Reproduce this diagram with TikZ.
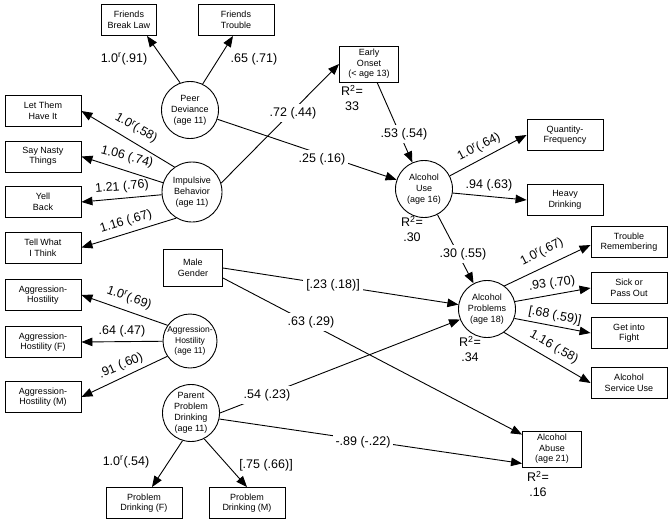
\documentclass[tikz,border=0pt]{standalone}
\usepackage{fontspec}
\setmainfont{Liberation Sans}
\usetikzlibrary{arrows.meta,positioning}

\tikzset{
  box/.style={draw, line width=0.9pt, minimum width=76pt, minimum height=31pt,
    inner sep=1pt, align=center, font=\fontsize{9}{10.5}\selectfont},
  latent/.style={draw, circle, line width=0.9pt, minimum size=57pt, inner sep=0pt,
    align=center, font=\fontsize{9}{11}\selectfont},
  coef/.style={font=\fontsize{12.5}{15}\selectfont, inner sep=1pt},
  cut/.style={coef, fill=white, inner sep=3pt},
  rsq/.style={coef, align=center},
  arr/.style={-{Triangle[length=11pt,width=8.5pt]}, line width=0.9pt}
}
\newcommand{\ld}[2]{#1\textsuperscript{r}(#2)}

\begin{document}
\begin{tikzpicture}[x=1pt, y=-1pt, on grid]
  \useasboundingbox (0,0) rectangle (672,525);
  % peer deviance and impulsive behavior
  \node[box, minimum width=55pt] (fbl) at (129,20) {Friends\\Break Law};
  \node[box] (ft) at (236,20) {Friends\\Trouble};
  \node[latent] (peer) at (190,110) {Peer\\Deviance\\(age 11)};
  \node[latent, minimum size=60pt] (imp) at (192,192) {Impulsive\\Behavior\\(age 11)};
  \node[box] (lth) at (43,111) {Let Them\\Have It};
  \node[box, below=45.5pt of lth] (snt) {Say Nasty\\Things};
  \node[box, below=45.5pt of snt] (yb) {Yell\\Back};
  \node[box, below=45.5pt of yb] (twt) {Tell What\\I Think};
  % outcomes
  \node[box, minimum width=59pt, minimum height=36pt] (early) at (369,64) {Early\\Onset\\(< age 13)};
  \node[latent] (au) at (424,189) {Alcohol\\Use\\(age 16)};
  \node[box] (qf) at (565,135) {Quantity-\\Frequency};
  \node[box, below=65pt of qf] (hd) {Heavy\\Drinking};
  \node[latent] (ap) at (487,309) {Alcohol\\Problems\\(age 18)};
  \node[box] (trm) at (629,242) {Trouble\\Remembering};
  \node[box, below=46pt of trm] (spo) {Sick or\\Pass Out};
  \node[box, below=45pt of spo] (gif) {Get into\\Fight};
  \node[box, below=50pt of gif] (asu) {Alcohol\\Service Use};
  \node[box, minimum width=59pt, minimum height=36pt] (abuse) at (552,449) {Alcohol\\Abuse\\(age 21)};
  % gender, aggression, parents
  \node[box, minimum width=59pt, minimum height=37pt] (male) at (193,268) {Male\\Gender};
  \node[box] (ah) at (43,295) {Aggression-\\Hostility};
  \node[box, below=47pt of ah] (ahf) {Aggression-\\Hostility (F)};
  \node[box, below=55pt of ahf] (ahm) {Aggression-\\Hostility (M)};
  \node[latent, minimum size=54pt, font=\fontsize{8.5}{10.5}\selectfont] (agg) at (190,341) {Aggression-\\Hostility\\(age 11)};
  \node[latent] (ppd) at (191,413) {Parent\\Problem\\Drinking\\(age 11)};
  \node[box] (pdf) at (144,503) {Problem\\Drinking (F)};
  \node[box] (pdm) at (247,503) {Problem\\Drinking (M)};

  \draw[arr] (peer.110) -- ([xshift=18pt]fbl.south);
  \draw[arr] (peer.64) -- ([xshift=-3pt]ft.south);
  \draw[arr] (peer) -- (au);
  \draw[arr] (imp.125) -- (lth.east);
  \draw[arr] (imp) -- (snt.east);
  \draw[arr] (imp) -- (yb.east);
  \draw[arr] (imp.239) -- (twt.east);
  \draw[arr] (imp.17) -- (early.west);
  \draw[arr] (early) -- (au);
  \draw[arr] (au.27) -- (qf.west);
  \draw[arr] (au.-8) -- (hd.west);
  \draw[arr] (au) -- (ap);
  \draw[arr] (ap.53) -- ([yshift=-3pt]trm.west);
  \draw[arr] (ap.15) -- (spo.west);
  \draw[arr] (ap.-19) -- (gif.west);
  \draw[arr] (ap.-54) -- (asu.west);
  \draw[arr] (male.east) -- (ap);
  \draw[arr] ([yshift=-10pt]male.east) -- ([yshift=-4pt]abuse.north west);
  \draw[arr] (agg.145) -- (ah.east);
  \draw[arr] (agg) -- (ahf.east);
  \draw[arr] (agg.214) -- (ahm.east);
  \draw[arr] (ppd.east) -- (ap);
  \draw[arr] (ppd.-12) -- ([yshift=4pt]abuse.south west);
  \draw[arr] (ppd.-107) -- ([xshift=8pt]pdf.north);
  \draw[arr] (ppd.-63) -- (pdm.north);

  % loadings
  \node[coef] (l1) at (124,59) {\ld{1.0}{.91}};
  \node[coef] (l2) at (254,59) {.65 (.71)};
  \node[coef, rotate=-30] (l3) at (136,128) {\ld{1.0}{.58}};
  \node[coef, rotate=-15] (l4) at (127,157) {1.06 (.74)};
  \node[coef, rotate=5] (l5) at (122,187) {1.21 (.76)};
  \node[coef, rotate=17] (l6) at (126,222) {1.16 (.67)};
  \node[coef, rotate=27] (l7) at (479,147) {\ld{1.0}{.64}};
  \node[coef] (l8) at (489,185) {.94 (.63)};
  \node[coef, rotate=27] (l9) at (542,252) {\ld{1.0}{.67}};
  \node[coef, rotate=8] (l10) at (552,284) {.93 (.70)};
  \node[coef, rotate=-11] (l11) at (555,316) {[.68 (.59)]};
  \node[coef, rotate=-30] (l12) at (554,347) {1.16 (.58)};
  \node[coef, rotate=-20] (l13) at (129,298) {\ld{1.0}{.69}};
  \node[coef] (l14) at (122,331) {.64 (.47)};
  \node[coef, rotate=23] (l15) at (121,366) {.91 (.60)};
  \node[coef] (l16) at (126,462) {\ld{1.0}{.54}};
  \node[coef] (l17) at (266,465) {[.75 (.66)]};
  % paths
  \node[cut] (p1) at (293,113) {.72 (.44)};
  \node[cut] (p2) at (322,159) {.25 (.16)};
  \node[cut] (p3) at (404,134) {.53 (.54)};
  \node[cut] (p4) at (463,254) {.30 (.55)};
  \node[cut] (p5) at (333,285) {[.23 (.18)]};
  \node[cut] (p6) at (311,322) {.63 (.29)};
  \node[cut] (p7) at (267,395) {.54 (.23)};
  \node[cut] (p8) at (363,442) {-.89 (-.22)};
  % explained variance
  \node[rsq] (r1) at (352,98) {R\textsuperscript{2}=\\33};
  \node[rsq] (r2) at (412,229) {R\textsuperscript{2}=\\.30};
  \node[rsq] (r3) at (470,349) {R\textsuperscript{2}=\\.34};
  \node[rsq] (r4) at (538,484) {R\textsuperscript{2}=\\.16};
\end{tikzpicture}
\end{document}
